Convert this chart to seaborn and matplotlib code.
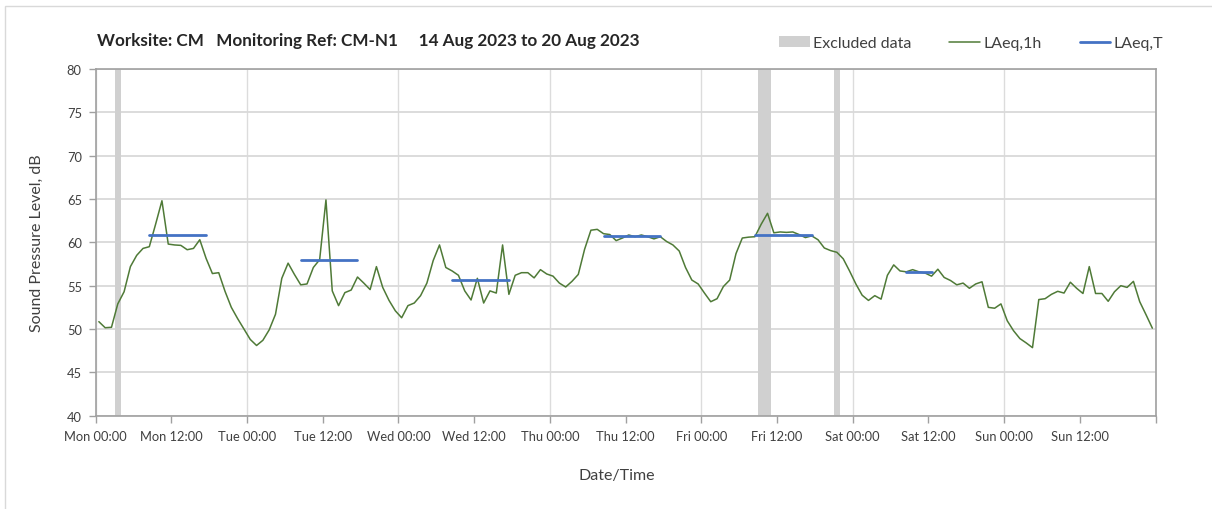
import numpy as np
import pandas as pd
import matplotlib
matplotlib.use("Agg")
import matplotlib.pyplot as plt
from matplotlib.patches import Patch, Rectangle
from matplotlib.lines import Line2D
import seaborn as sns

# hourly LAeq,1h values, Mon 00:00 .. Sun 23:00 (one value per hour)
laeq_1h = [
    50.85, 50.15, 50.2, 52.9, 54.3, 57.2, 58.5, 59.3, 59.5, 62.1,
    64.8, 59.8, 59.7, 59.65, 59.15, 59.3, 60.3, 58.15, 56.4, 56.5,
    54.35, 52.5, 51.2, 50.0, 48.8, 48.1, 48.7, 49.9, 51.7, 55.85,
    57.6, 56.3, 55.1, 55.2, 57.1, 58.0, 64.9, 54.4, 52.7, 54.2,
    54.5, 56.0, 55.3, 54.55, 57.2, 54.8, 53.3, 52.1, 51.3, 52.7,
    53.0, 53.85, 55.3, 57.9, 59.7, 57.1, 56.7, 56.2, 54.4, 53.35,
    55.85, 53.0, 54.4, 54.15, 59.7, 54.0, 56.2, 56.5, 56.5, 55.9,
    56.85, 56.35, 56.1, 55.3, 54.85, 55.5, 56.3, 59.2, 61.4, 61.5,
    61.0, 60.9, 60.2, 60.5, 60.85, 60.65, 60.85, 60.65, 60.4, 60.65,
    60.1, 59.7, 59.0, 57.1, 55.65, 55.2, 54.15, 53.15, 53.5, 54.9,
    55.65, 58.7, 60.5, 60.6, 60.65, 62.1, 63.35, 61.1, 61.2, 61.15,
    61.2, 60.9, 60.55, 60.75, 60.3, 59.35, 59.05, 58.85, 58.1, 56.7,
    55.2, 53.9, 53.3, 53.85, 53.45, 56.2, 57.4, 56.7, 56.6, 56.85,
    56.6, 56.45, 56.1, 56.9, 55.95, 55.6, 55.1, 55.3, 54.7, 55.2,
    55.45, 52.5, 52.4, 52.9, 50.95, 49.8, 48.9, 48.4, 47.85, 53.4,
    53.5, 54.0, 54.35, 54.15, 55.4, 54.7, 54.1, 57.2, 54.1, 54.1,
    53.2, 54.3, 55.0, 54.8, 55.5, 53.15, 51.65, 50.1,
]

# LAeq,T periods: first and last hour index of each period, and level
lt_first = [8, 32, 56, 80, 104, 128]
lt_last = [17, 41, 65, 89, 113, 132]
lt_value = [60.8, 58.0, 55.65, 60.7, 60.9, 56.55]

# hours flagged as excluded data
excluded_hours = [3, 105, 106, 117]

days = ["Mon", "Tue", "Wed", "Thu", "Fri", "Sat", "Sun"]
labels_00 = [f"{d} 00:00" for d in days] + [""]
labels_12 = [f"{d} 12:00" for d in days]

title = "Worksite: CM   Monitoring Ref: CM-N1     14 Aug 2023 to 20 Aug 2023"

df_1h = pd.DataFrame({"t": np.arange(len(laeq_1h)) + 0.5, "LAeq": laeq_1h})
rows = []
for i, (a, b, v) in enumerate(zip(lt_first, lt_last, lt_value)):
    rows.append({"period": i, "t": a + 0.5, "LAeq": v})
    rows.append({"period": i, "t": b + 0.5, "LAeq": v})
df_T = pd.DataFrame(rows)

sns.set_theme(style="white")
plt.rcParams["font.family"] = ["Lato", "DejaVu Sans"]

green = "#4f7a37"
blue = "#4472c4"
grey_band = "#d0d0d0"
txt = "#404040"

fig = plt.figure(figsize=(12.12, 5.1), dpi=100)
ax = fig.add_axes([95.7 / 1212, 1 - 416.7 / 510, 1059.8 / 1212, 346.7 / 510])

y_lo, y_hi = 40, 80
ax.bar([h + 0.5 for h in excluded_hours], y_hi - y_lo, bottom=y_lo, width=1.0,
       color=grey_band, zorder=1, linewidth=0)
sns.lineplot(data=df_1h, x="t", y="LAeq", ax=ax, color=green, lw=1.1, zorder=3,
             legend=False)
sns.lineplot(data=df_T, x="t", y="LAeq", units="period", estimator=None, ax=ax,
             color=blue, lw=2.0, zorder=4, legend=False)

ax.set_xlim(0, 168)
ax.set_ylim(y_lo, y_hi)
ax.set_xticks(range(0, 169, 24))
ax.set_xticklabels(labels_00)
ax.set_xticks(range(12, 168, 24), minor=True)
ax.set_xticklabels(labels_12, minor=True)
ax.set_yticks(range(40, 81, 5))

ax.tick_params(axis="both", which="both", direction="out", length=5, width=1,
               color="#a0a0a0", labelcolor=txt, labelsize=9.3, pad=5)
ax.tick_params(axis="x", which="both", bottom=True)
ax.tick_params(axis="y", left=True)

ax.grid(axis="y", which="major", color="#d9d9d9", lw=1.3, zorder=0)
ax.grid(axis="x", which="major", color="#dcdcdc", lw=1.0, zorder=0)
ax.grid(axis="x", which="minor", visible=False)
ax.set_axisbelow(True)

for s in ax.spines.values():
    s.set_color("#a0a0a0")
    s.set_linewidth(1.2)

ax.set_ylabel("Sound Pressure Level, dB", fontsize=11.5, color=txt)
ax.yaxis.set_label_coords(-0.049, 0.5)
ax.set_xlabel("Date/Time", fontsize=11.5, color=txt)
ax.xaxis.set_label_coords(0.492, -0.15)

fig.text(97 / 1212, 1 - 41 / 510, title, fontsize=12.3, fontweight="bold",
         color="#262626", ha="left", va="center")

handles = [
    Patch(facecolor=grey_band, edgecolor="none", label="Excluded data"),
    Line2D([0], [0], color=green, lw=1.1, label="LAeq,1h"),
    Line2D([0], [0], color=blue, lw=2.0, label="LAeq,T"),
]
fig.legend(handles=handles, loc="center", bbox_to_anchor=(971 / 1212, 1 - 44 / 510),
           ncol=3, frameon=False, fontsize=11.5, handlelength=1.9,
           handletextpad=0.2, columnspacing=2.4, labelcolor=txt)

fig.patches.append(Rectangle((5 / 1212, -0.1), 1.0, 1 - 7 / 510 + 0.1,
                             transform=fig.transFigure, fill=False,
                             edgecolor="#d9d9d9", lw=1.0))

fig.savefig("out.png", dpi=100)
